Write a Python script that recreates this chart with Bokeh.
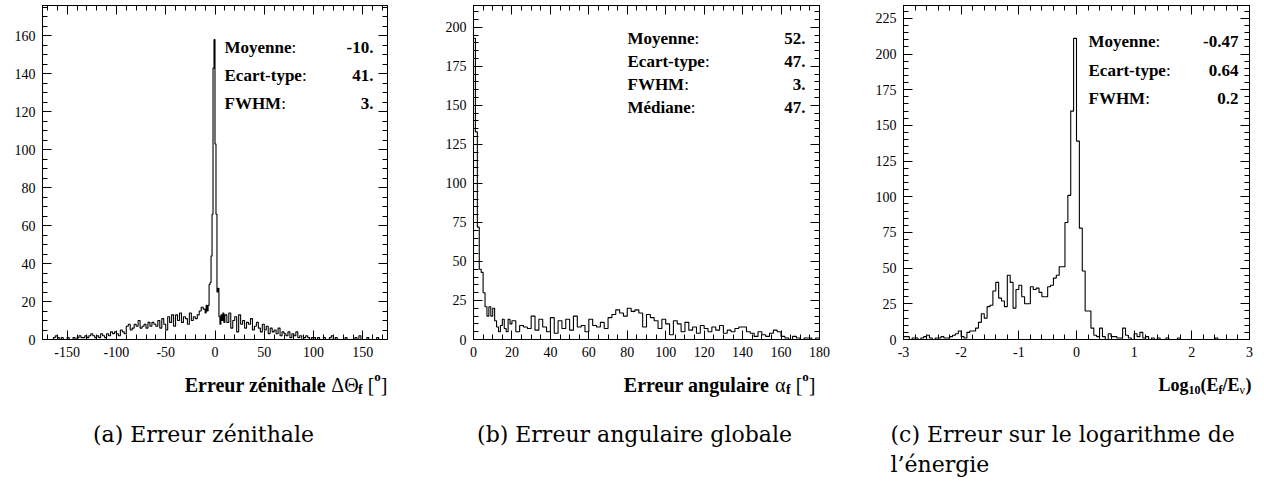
import numpy as np
from bokeh.plotting import figure
from bokeh.models import Range1d, LinearAxis, SingleIntervalTicker, Label, PrintfTickFormatter
from bokeh.layouts import row, column
from bokeh.embed import file_html
from bokeh.resources import INLINE

# ---------------- data ----------------
# (a) zenith error: 2-degree bins on [-172,-10], 1-degree bins on [-10,10], 2-degree bins on [10,172]
zen_counts_left = [0, 0, 0, 0, 1, 2,
                   1, 0, 1, 0, 0, 1, 0, 0, 1, 0,
                   1, 2, 1, 1, 2, 1, 2, 3, 2, 1,
                   2, 1, 3, 2, 1, 3, 2, 4, 3, 4,
                   3, 2, 5, 4, 3, 7, 8, 5, 6, 8,
                   7, 10, 6, 7, 8, 6, 9, 7, 9, 8,
                   7, 10, 6, 11, 8, 5, 12, 9, 13, 7,
                   13, 10, 14, 9, 12, 11, 8, 14, 10, 12,
                   11, 13, 15, 17, 16]
zen_counts_core = [14, 18, 15, 18, 29, 30, 44, 66, 143, 158,
                   103, 66, 25, 27, 12, 8, 13, 10, 14, 9]
zen_counts_right = [13, 9, 14, 6, 10,
                    12, 4, 13, 8, 10, 6, 9, 8, 11, 5,
                    7, 9, 6, 4, 8, 5, 7, 3, 6, 4,
                    5, 3, 6, 2, 4, 3, 2, 4, 1, 3,
                    2, 4, 1, 2, 0, 1, 2, 1, 0, 1,
                    1, 0, 1, 0, 0, 1, 0, 0, 1, 2,
                    0, 1, 0, 0, 0, 0, 1, 0, 0, 0,
                    0, 1, 0, 2, 0, 0, 0, 1, 0, 0,
                    0, 0, 1, 0, 0, 0]

# (b) global angular error: 1-degree bins on [0,20], 2-degree bins on [20,180]
ang_counts_fine = [193, 133, 72, 45, 43, 30, 21, 15, 21, 15,
                   20, 12, 8, 5, 9, 13, 7, 5, 13, 10]
ang_counts_coarse = [12, 5, 9, 8, 7, 15, 6, 13, 8, 5,
                     14, 4, 12, 7, 13, 6, 15, 8, 9, 5,
                     13, 9, 8, 11, 7, 14, 16, 19, 17, 15,
                     20, 18, 19, 17, 8, 16, 14, 12, 7, 13,
                     10, 3, 12, 10, 5, 11, 6, 8, 4, 9,
                     7, 5, 8, 6, 9, 4, 6, 5, 7, 8,
                     8, 5, 4, 2, 5, 3, 2, 4, 6, 5,
                     2, 1, 0, 2, 1, 0, 1, 1, 0, 1]

# (c) log10(Ef/Enu): 0.05 bins on [-3,3]
loge_counts = [2, 2, 0, 1, 1, 0, 1, 2, 3, 1, 0, 1, 1, 2, 1, 1, 2, 3, 4, 6,
               2, 1, 5, 6, 6, 8, 12, 18, 15, 23, 24, 34, 40, 29, 27, 23, 45, 40, 22, 35,
               38, 30, 25, 25, 37, 35, 36, 33, 30, 30, 37, 38, 43, 45, 51, 51, 82, 101, 160, 211,
               139, 78, 48, 20, 20, 8, 3, 2, 8, 2, 0, 4, 2, 2, 1, 1, 8, 3, 1, 0,
               4, 2, 5, 1, 2, 0, 1, 0, 1, 0, 0, 1, 0, 0, 0, 1, 0, 0, 0, 0,
               0, 0, 0, 0, 0, 0, 0, 0, 1, 0, 0, 0, 0, 0, 0, 0, 0, 0, 0, 0]

stats_a_names = ["Moyenne", "Ecart-type", "FWHM"]
stats_a_values = ["-10.", "41.", "3."]
stats_b_names = ["Moyenne", "Ecart-type", "FWHM", "Médiane"]
stats_b_values = ["52.", "47.", "3.", "47."]
stats_c_names = ["Moyenne", "Ecart-type", "FWHM"]
stats_c_values = ["-0.47", "0.64", "0.2"]

caption_a = "(a) Erreur zénithale"
caption_b = "(b) Erreur angulaire globale"
caption_c = ["(c) Erreur sur le logarithme de", "l’énergie"]

# bin edges
zen_edges = np.concatenate([np.arange(-172, -9, 2), np.arange(-9, 11, 1), np.arange(12, 173, 2)])
ang_edges = np.concatenate([np.arange(0, 21, 1), np.arange(22, 181, 2)])
loge_edges = np.round(np.linspace(-3, 3, 121), 3)

zen_counts = zen_counts_left + zen_counts_core + zen_counts_right

# ---------------- styling helpers ----------------
FONT = "Liberation Serif"
H_TOP = 365
H_TXT = 116

BOLD_W = {"M": 944, "o": 500, "y": 500, "e": 444, "n": 556, "E": 667, "c": 444, "a": 500,
          "r": 444, "t": 333, "-": 333, "p": 556, "F": 611, "W": 1000, "H": 778, "é": 444,
          "d": 556, "i": 278, "z": 444, "h": 556, "l": 278, "g": 500, "u": 556, "L": 667,
          "1": 500, "0": 500, "(": 333, ")": 333, "/": 278, "f": 333, " ": 250}
REG_W = {":": 278, "[": 333, "]": 333, "Δ": 612, "Θ": 722, "α": 553, "ν": 500, " ": 250}


def text_width(s, size, bold):
    table = BOLD_W if bold else REG_W
    return sum(table.get(ch, 500) for ch in s) * size / 1000.0


def add_rich(p, pieces, x, y, align="left"):
    total = sum(text_width(t, s, b) for t, s, b, dy in pieces)
    cx = x - total if align == "right" else x
    for t, s, b, dy in pieces:
        if t.strip():
            p.add_layout(Label(x=cx, y=y + dy, x_units="screen", y_units="screen", text=t,
                               text_font=FONT, text_font_size=f"{s}px",
                               text_font_style="bold" if b else "normal", text_color="black",
                               text_align="left", text_baseline="alphabetic"))
        cx += text_width(t, s, b)


def make_panel(width, bl, br, xr, yr, xint, xminor, yint, yminor):
    p = figure(width=width, height=H_TOP, x_range=Range1d(*xr), y_range=Range1d(*yr),
               x_axis_type=None, y_axis_type=None, output_backend="svg",
               toolbar_location=None, min_border_left=bl, min_border_right=br,
               min_border_top=5, min_border_bottom=H_TOP - 339)
    p.outline_line_color = "black"
    p.outline_line_width = 1
    p.background_fill_color = "white"
    p.border_fill_color = "white"
    for loc in ("below", "above", "left", "right"):
        if loc in ("below", "above"):
            t = SingleIntervalTicker(interval=xint, num_minor_ticks=xminor)
        else:
            t = SingleIntervalTicker(interval=yint, num_minor_ticks=yminor)
        ax = LinearAxis(ticker=t, formatter=PrintfTickFormatter(format="%d"))
        ax.major_tick_in = 9
        ax.major_tick_out = 0
        ax.minor_tick_in = 5
        ax.minor_tick_out = 0
        ax.axis_line_color = "black"
        ax.major_tick_line_color = "black"
        ax.minor_tick_line_color = "black"
        if loc in ("below", "left"):
            ax.major_label_text_font = FONT
            ax.major_label_text_font_style = "normal"
            ax.major_label_text_font_size = "14px"
            ax.major_label_text_color = "black"
            ax.major_label_standoff = 7
        else:
            ax.major_label_text_font_size = "1px"
            ax.major_label_text_color = None
            ax.major_label_standoff = 0
        p.add_layout(ax, loc)
    return p


def make_text_panel(width):
    p = figure(width=width, height=H_TXT, x_range=Range1d(0, 1), y_range=Range1d(0, 1),
               x_axis_type=None, y_axis_type=None, output_backend="svg",
               toolbar_location=None, min_border_left=0, min_border_right=0,
               min_border_top=0, min_border_bottom=0)
    p.outline_line_color = None
    p.background_fill_color = "white"
    p.border_fill_color = "white"
    return p


def draw_hist(p, edges, counts):
    xs = [float(edges[0])] + [float(e) for e in edges]
    ys = [0] + list(counts) + [0]
    p.step(x=xs, y=ys, mode="after", line_color="black", line_width=1.1)


STAT_SIZE = 17


def add_stats(p, names, values, left, right, ys):
    for n, v, y in zip(names, values, ys):
        add_rich(p, [(n, STAT_SIZE, True, 0), (":", STAT_SIZE, False, 0)], left, y)
        p.add_layout(Label(x=right, y=y, x_units="screen", y_units="screen", text=v,
                           text_font=FONT, text_font_size=f"{STAT_SIZE}px", text_font_style="bold",
                           text_color="black", text_align="right", text_baseline="alphabetic"))


def add_caption(p, text, x, y, align):
    p.add_layout(Label(x=x, y=y, x_units="screen", y_units="screen", text=text,
                       text_font="DejaVu Serif", text_font_size="22px", text_color="black",
                       text_align=align, text_baseline="alphabetic"))


# text-panel baselines (measured from bottom of the text panel, which ends at y=481)
TITLE_Y = 481 - 384
CAP1_Y = 481 - 434
CAP2_Y = 481 - 464

W1, W2, W3 = 430, 432, 400

# ---------------- panel (a) ----------------
p1 = make_panel(W1, 42, 43, (-175, 175), (0, 176), 50, 5, 20, 4)
draw_hist(p1, zen_edges, zen_counts)
add_stats(p1, stats_a_names, stats_a_values, 182, 331, [292.5, 264.5, 236.5])
t1 = make_text_panel(W1)
add_rich(t1, [("Erreur zénithale", 20, True, 0), (" ", 20, True, 0), ("ΔΘ", 20, False, 0),
              ("f", 14, True, -5), (" ", 20, True, 0), ("[", 20, False, 0),
              ("o", 13, True, 8), ("]", 20, False, 0)], 387, TITLE_Y, align="right")
add_caption(t1, caption_a, 203, CAP1_Y, "center")

# ---------------- panel (b) ----------------
p2 = make_panel(W2, 43, 43, (0, 180), (0, 214), 20, 4, 25, 5)
draw_hist(p2, ang_edges, ang_counts_fine + ang_counts_coarse)
add_stats(p2, stats_b_names, stats_b_values, 154, 332, [301.5, 278.5, 255.5, 232.5])
t2 = make_text_panel(W2)
add_rich(t2, [("Erreur angulaire", 20, True, 0), (" ", 20, True, 0), ("α", 20, False, 0),
              ("f", 14, True, -5), (" ", 20, True, 0), ("[", 20, False, 0),
              ("o", 13, True, 8), ("]", 20, False, 0)], 815 - 430, TITLE_Y, align="right")
add_caption(t2, caption_b, 634 - 430, CAP1_Y, "center")

# ---------------- panel (c) ----------------
p3 = make_panel(W3, 41, 13, (-3, 3), (0, 234), 1, 5, 25, 5)
draw_hist(p3, loge_edges, loge_counts)
add_stats(p3, stats_c_names, stats_c_values, 185, 335, [298.5, 269.5, 241.5])
t3 = make_text_panel(W3)
add_rich(t3, [("Log", 18, True, 0), ("10", 12, True, -5), ("(E", 18, True, 0),
              ("f", 12, True, -5), ("/E", 18, True, 0), ("ν", 12, False, -5),
              (")", 18, True, 0)], 1251 - 862, TITLE_Y, align="right")
add_caption(t3, caption_c[0], 890 - 862, CAP1_Y, "left")
add_caption(t3, caption_c[1], 890 - 862, CAP2_Y, "left")

layout = column(row(p1, p2, p3), row(t1, t2, t3))
open("out.html", "w").write(file_html(layout, INLINE))
